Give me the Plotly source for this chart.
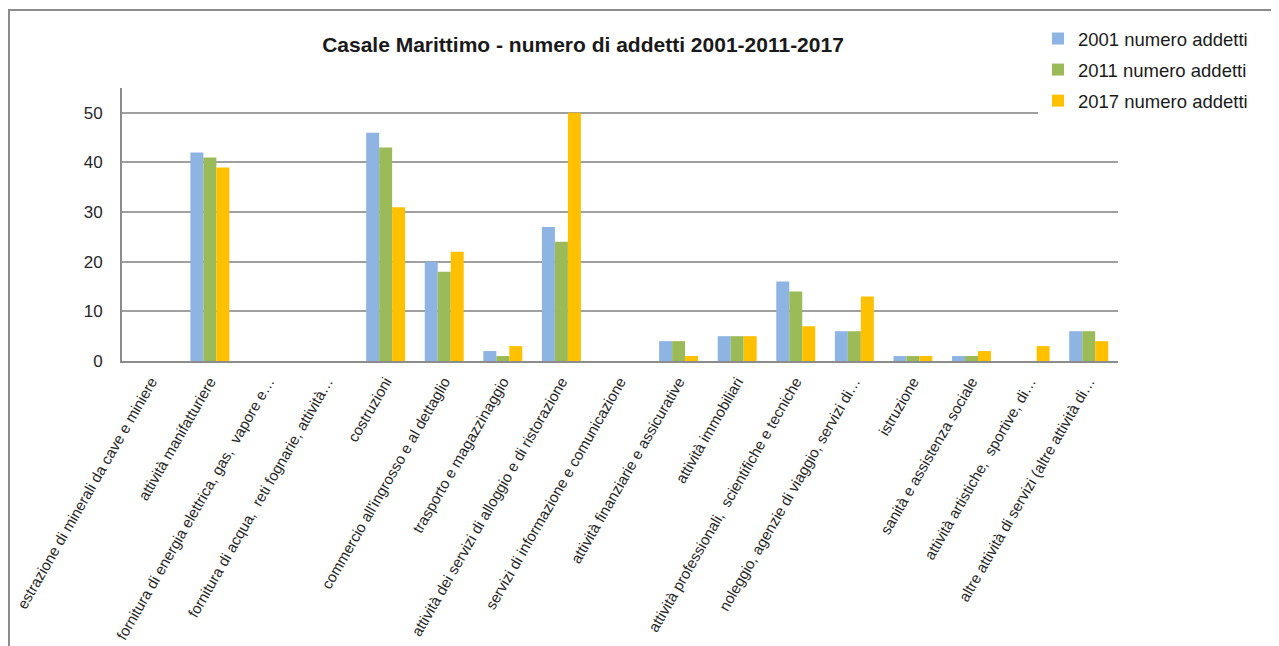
import plotly.graph_objects as go

categories = [
    "estrazione di minerali da cave e miniere",
    "attività manifatturiere",
    "fornitura di energia elettrica, gas,  vapore e…",
    "fornitura di acqua,  reti fognarie, attività…",
    "costruzioni",
    "commercio all'ingrosso e al dettaglio",
    "trasporto e magazzinaggio",
    "attività dei servizi di alloggio e di ristorazione",
    "servizi di informazione e comunicazione",
    "attività finanziarie e assicurative",
    "attività immobiliari",
    "attività professionali,  scientifiche e tecniche",
    "noleggio, agenzie di viaggio, servizi di…",
    "istruzione",
    "sanità e assistenza sociale",
    "attività artistiche,  sportive, di…",
    "altre attività di servizi (altre attività di…",
]
addetti_2001 = [0, 42, 0, 0, 46, 20, 2, 27, 0, 4, 5, 16, 6, 1, 1, 0, 6]
addetti_2011 = [0, 41, 0, 0, 43, 18, 1, 24, 0, 4, 5, 14, 6, 1, 1, 0, 6]
addetti_2017 = [0, 39, 0, 0, 31, 22, 3, 50, 0, 1, 5, 7, 13, 1, 2, 3, 4]
series_names = ["2001 numero addetti", "2011 numero addetti", "2017 numero addetti"]
series_colors = ["#8DB4E2", "#9BBB59", "#FFC000"]
title_text = "Casale Marittimo - numero di addetti 2001-2011-2017"

FONT = "Liberation Sans, Arial, sans-serif"
W, H = 1279, 646
OFF = 8  # page body margin offset
L, R, T, B = 122 - OFF, 1118 - OFF, 88 - OFF, 361 - OFF

def px_x(x):
    return (x - OFF - L) / (R - L)

def px_y(y):
    return (B - (y - OFF)) / (B - T)

fig = go.Figure()
for name, vals, col in zip(series_names, [addetti_2001, addetti_2011, addetti_2017], series_colors):
    fig.add_trace(go.Bar(
        x=categories, y=vals, name=name, legendgroup=name,
        marker=dict(color=col, line=dict(width=0)),
    ))

fig.update_layout(
    width=W, height=H,
    margin=dict(l=L, r=W - R, t=T, b=H - B, pad=0),
    paper_bgcolor="white", plot_bgcolor="white",
    font=dict(family=FONT, color="#262626"),
    barmode="group", bargap=0.335, bargroupgap=0,
    title=dict(text="<b>" + title_text + "</b>", x=px_x(583), xref="paper",
               xanchor="center", y=1 - (45 - OFF) / H, yanchor="middle",
               font=dict(size=21, color="#1a1a1a", family=FONT)),
    showlegend=True,
    legend=dict(x=px_x(1038), xanchor="left", y=px_y(20), yanchor="top",
                bgcolor="white", borderwidth=0, font=dict(size=18.5, color="#1a1a1a"),
                tracegroupgap=4, itemwidth=30),
    xaxis=dict(type="category", tickangle=-60, tickfont=dict(size=15, color="#262626"),
               showline=True, linecolor="#8C8C8C", linewidth=2, ticks="",
               showgrid=False, ticklabelstandoff=4, automargin=False),
    yaxis=dict(range=[0, 55], tickvals=[0, 10, 20, 30, 40, 50], tickfont=dict(size=17, color="#262626"),
               showline=True, linecolor="#8C8C8C", linewidth=2, ticks="",
               showgrid=True, gridcolor="#A0A0A0", gridwidth=2, zeroline=False,
               ticklabelstandoff=14, automargin=False),
)

# outer chart frame (cropped at right and bottom in the reference)
fig.add_shape(type="rect", xref="paper", yref="paper",
              x0=px_x(9), x1=px_x(1300),
              y0=px_y(670), y1=px_y(10),
              line=dict(color="#8C8C8C", width=2), fillcolor="rgba(0,0,0,0)", layer="above")

fig.write_html("out.html")
